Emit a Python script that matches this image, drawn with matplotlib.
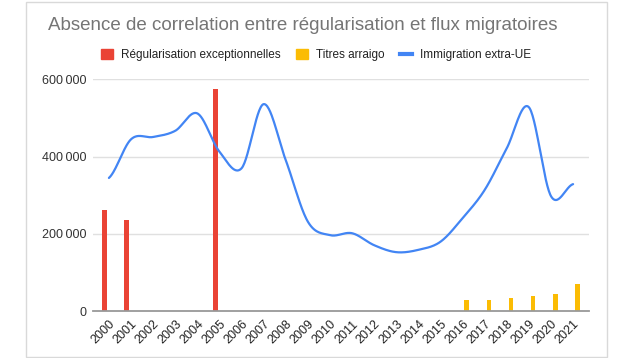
import numpy as np
import matplotlib
matplotlib.use('Agg')
import matplotlib.pyplot as plt
from matplotlib.patches import Rectangle
from matplotlib.lines import Line2D
from matplotlib.ticker import FuncFormatter

plt.rcParams['font.family'] = ['Liberation Sans', 'DejaVu Sans']

# ===== données ===== #
annees = [str(a) for a in range(2000, 2022)]
regularisation = [262000, 236000, 0, 0, 0, 575000] + [0] * 16
arraigo = [0] * 16 + [29000, 29000, 33600, 39600, 44000, 70600]
immigration = [345000, 445000, 451000, 467000, 512000, 413000, 370000, 536000,
               391000, 232000, 197000, 202000, 171000, 153000, 159000, 180000,
               241000, 314000, 422000, 528000, 298000, 329000]

c_rouge = '#EA4335'
c_jaune = '#FBBC04'
c_bleu = '#4285F4'


def catmull_rom(xs, ys, n=30):
    # courbe lissée passant par les points
    xs = np.asarray(xs, float)
    ys = np.asarray(ys, float)
    px = np.concatenate([[2 * xs[0] - xs[1]], xs, [2 * xs[-1] - xs[-2]]])
    py = np.concatenate([[ys[0]], ys, [ys[-1]]])
    out_x, out_y = [], []
    t = np.linspace(0, 1, n, endpoint=False)
    for i in range(1, len(px) - 2):
        for p, o in ((px, out_x), (py, out_y)):
            p0, p1, p2, p3 = p[i - 1], p[i], p[i + 1], p[i + 2]
            o.extend(0.5 * ((2 * p1) + (-p0 + p2) * t
                            + (2 * p0 - 5 * p1 + 4 * p2 - p3) * t ** 2
                            + (-p0 + 3 * p1 - 3 * p2 + p3) * t ** 3))
    out_x.append(xs[-1])
    out_y.append(ys[-1])
    return np.array(out_x), np.array(out_y)


W, H = 636, 358
fig = plt.figure(figsize=(6.36, 3.58), dpi=100)
fig.patches.append(Rectangle((26 / W, 1 / H), 581 / W, 355 / H,
                             transform=fig.transFigure, fill=False,
                             edgecolor='#d9d9d9', linewidth=1))

ax = fig.add_axes([93 / W, 1 - 311.3 / H, (589 - 93) / W, (311.3 - 79.4) / H])

x = np.arange(len(annees))
off, bw = 0.19, 0.21
ax.bar(x - off, regularisation, width=bw, color=c_rouge, zorder=3)
ax.bar(x + off, arraigo, width=bw, color=c_jaune, zorder=3)
sx, sy = catmull_rom(x, immigration)
ax.plot(sx, sy, color=c_bleu, linewidth=1.6, zorder=4, solid_capstyle='round')

ax.set_xlim(-0.72, len(annees) - 1 + 0.72)
ax.set_ylim(0, 600000)
ax.set_yticks([0, 200000, 400000, 600000])
ax.yaxis.set_major_formatter(FuncFormatter(lambda v, p: f'{int(v):,}'.replace(',', '\u2009')))
ax.set_xticks(x)
ax.set_xticklabels(annees, rotation=45, ha='right', rotation_mode='anchor')
ax.tick_params(axis='both', length=0, labelsize=9, colors='#222222')
ax.tick_params(axis='y', pad=5, labelcolor='#333333')
ax.tick_params(axis='x', pad=5)
ax.grid(axis='y', color='#e0e0e0', linewidth=1, zorder=0)
for s in ['top', 'right', 'left']:
    ax.spines[s].set_visible(False)
ax.spines['bottom'].set_color('#999999')
ax.spines['bottom'].set_linewidth(1.3)
ax.spines['bottom'].set_zorder(5)

fig.text(48 / W, 1 - 26 / H, 'Absence de correlation entre régularisation et flux migratoires',
         fontsize=13.5, color='#757575', va='center', ha='left')

handles = [Rectangle((0, 0), 1, 1, color=c_rouge),
           Rectangle((0, 0), 1, 1, color=c_jaune),
           Line2D([0], [0], color=c_bleu, linewidth=3)]
fig.legend(handles, ['Régularisation exceptionnelles', 'Titres arraigo', 'Immigration extra-UE'],
           loc='center', bbox_to_anchor=(316 / W, 1 - 55 / H), ncol=3, frameon=False,
           fontsize=8.5, handlelength=1.0, handleheight=1.0, handletextpad=0.7,
           columnspacing=1.3, labelcolor='#222222')

fig.savefig('out.png', dpi=100)
